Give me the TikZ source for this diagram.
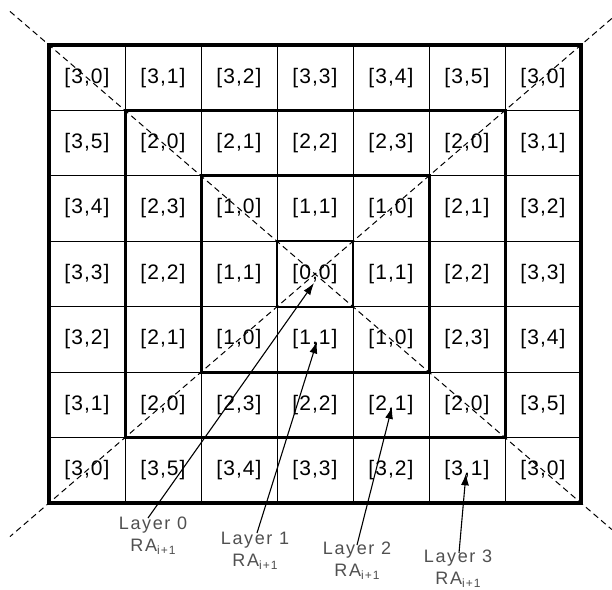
\documentclass[tikz,border=0pt]{standalone}
\usepackage{fontspec}
\setmainfont{Liberation Sans}
\newfontfamily\cellfont[LetterSpace=5]{Liberation Sans}
\newfontfamily\labfont[LetterSpace=9]{Liberation Sans}
\usetikzlibrary{arrows.meta,calc}
\definecolor{labgray}{HTML}{505050}
\tikzset{
  cell/.style={font=\cellfont\fontsize{21bp}{23bp}\selectfont, inner sep=0pt, text=black},
  gridline/.style={line width=0.9bp, black},
  outerbox/.style={line width=3.6bp, black},
  layerbox/.style={line width=3bp, black},
  centerbox/.style={line width=2bp, black},
  diag/.style={line width=1bp, dash pattern=on 6bp off 4bp, black},
  lab/.style={font=\labfont\fontsize{18bp}{22bp}\selectfont, text=labgray, align=center, inner sep=0pt},
  arr/.style={line width=1.1bp, black, -{Latex[length=12bp,width=8bp]}}
}
\newcommand{\subra}{RA\raisebox{-3bp}{\fontsize{12bp}{12bp}\selectfont i+1}}
\begin{document}
\begin{tikzpicture}[x=1bp,y=-1bp]
\useasboundingbox (0,0) rectangle (612,590);
\fill[white] (0,0) rectangle (612,590);
% grid corner coordinates
\foreach \i in {0,...,7}{
  \foreach \j in {0,...,7}{
    \coordinate (g-\i-\j) at ({49+76*\i},{45+65.43*\j});
  }
}
% thin grid lines
\foreach \i in {1,...,6}{
  \draw[gridline] (g-\i-0) -- (g-\i-7);
  \draw[gridline] (g-0-\i) -- (g-7-\i);
}
% dashed diagonals
\draw[diag] ($(g-0-0)!-0.0733!(g-7-7)$) -- ($(g-7-7)!-0.058!(g-0-0)$);
\draw[diag] ($(g-7-0)!-0.058!(g-0-7)$) -- ($(g-0-7)!-0.0733!(g-7-0)$);
% cell labels
\foreach \rowlist [count=\j from 0] in {
  {3/0,3/1,3/2,3/3,3/4,3/5,3/0},
  {3/5,2/0,2/1,2/2,2/3,2/0,3/1},
  {3/4,2/3,1/0,1/1,1/0,2/1,3/2},
  {3/3,2/2,1/1,0/0,1/1,2/2,3/3},
  {3/2,2/1,1/0,1/1,1/0,2/3,3/4},
  {3/1,2/0,2/3,2/2,2/1,2/0,3/5},
  {3/0,3/5,3/4,3/3,3/2,3/1,3/0}}{
  \foreach \a/\b [count=\i from 0] in \rowlist {
    \node[cell] (c-\j-\i) at ({87+76*\i},{77.7+65.43*\j}) {[\a,\b]};
  }
}
% layer boxes
\draw[outerbox] (g-0-0) rectangle (g-7-7);
\draw[layerbox] (g-1-1) rectangle (g-6-6);
\draw[layerbox] (g-2-2) rectangle (g-5-5);
\draw[centerbox] (g-3-3) rectangle (g-4-4);
% labels
\node[lab] (l0) at (153,536) {Layer 0\\\subra};
\node[lab] (l1) at (255,550.5) {Layer 1\\\subra};
\node[lab] (l2) at (357,560.5) {Layer 2\\\subra};
\node[lab] (l3) at (458,568.5) {Layer 3\\\subra};
% arrow ends
\coordinate (s0) at ($(l0.center)+(-5,-18)$);
\coordinate (s1) at ($(l1.center)+(2,-17.5)$);
\coordinate (s2) at ($(l2.center)+(0,-15.5)$);
\coordinate (s3) at ($(l3.center)+(1,-15.5)$);
\coordinate (t0) at ($(c-3-3.center)+(-1,9)$);
\coordinate (t1) at ($(c-4-3.center)+(2,2)$);
\coordinate (t2) at ($(c-5-4.center)+(1,2)$);
\coordinate (t3) at ($(c-6-5.center)+(-1,3)$);
\draw[arr] (s0) -- (t0);
\draw[arr] (s1) -- (t1);
\draw[arr] (s2) -- (t2);
\draw[arr] (s3) -- (t3);
\end{tikzpicture}
\end{document}
